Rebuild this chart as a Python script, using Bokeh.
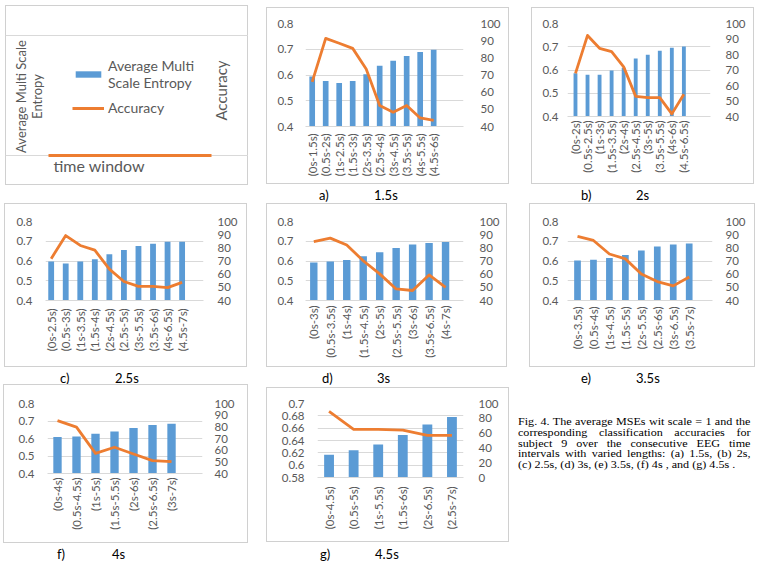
from math import pi

from bokeh.embed import file_html
from bokeh.layouts import column, row
from bokeh.models import (ColumnDataSource, Div, FixedTicker, Grid, Label, Legend,
                          LegendItem, LinearAxis, Range1d, Spacer)
from bokeh.plotting import figure
from bokeh.resources import INLINE

# ---------------------------------------------------------------- data
cats_a = ["(0s-1.5s)", "(0.5s-2s)", "(1s-2.5s)", "(1.5s-3s)", "(2s-3.5s)",
          "(2.5s-4s)", "(3s-4.5s)", "(3.5s-5s)", "(4s-5.5s)", "(4.5s-6s)"]
mse_a = [0.594, 0.577, 0.569, 0.577, 0.603, 0.636, 0.655, 0.674, 0.689, 0.698]
acc_a = [66.0, 91.3, 88.5, 85.5, 73.5, 52.2, 48.3, 52.2, 45.0, 43.5]

cats_b = ["(0s-2s)", "(0.5s-2.5s)", "(1s-3s)", "(1.5s-3.5s)", "(2s-4s)",
          "(2.5s-4.5s)", "(3s-5s)", "(3.5s-5.5s)", "(4s-6s)", "(4.5s-6.5s)"]
mse_b = [0.586, 0.580, 0.580, 0.598, 0.610, 0.649, 0.666, 0.683, 0.696, 0.701]
acc_b = [67.8, 92.3, 84.0, 81.8, 72.0, 53.0, 52.2, 52.2, 41.7, 54.4]

cats_c = ["(0s-2.5s)", "(0.5s-3s)", "(1s-3.5s)", "(1.5s-4s)", "(2s-4.5s)",
          "(2.5s-5s)", "(3s-5.5s)", "(3.5s-6s)", "(4s-6.5s)", "(4.5s-7s)"]
mse_c = [0.597, 0.587, 0.597, 0.609, 0.634, 0.656, 0.676, 0.687, 0.698, 0.698]
acc_c = [71.8, 89.3, 81.8, 78.2, 63.8, 54.4, 50.7, 50.7, 49.8, 53.8]

cats_d = ["(0s-3s)", "(0.5s-3.5s)", "(1s-4s)", "(1.5s-4.5s)", "(2s-5s)",
          "(2.5s-5.5s)", "(3s-6s)", "(3.5s-6.5s)", "(4s-7s)"]
mse_d = [0.593, 0.598, 0.605, 0.624, 0.644, 0.666, 0.684, 0.691, 0.696]
acc_d = [84.8, 87.4, 82.1, 70.2, 60.2, 48.8, 47.6, 59.4, 50.0]

cats_e = ["(0s-3.5s)", "(0.5s-4s)", "(1s-4.5s)", "(1.5s-5s)", "(2s-5.5s)",
          "(2.5s-6s)", "(3s-6.5s)", "(3.5s-7s)"]
mse_e = [0.603, 0.606, 0.615, 0.631, 0.653, 0.673, 0.684, 0.689]
acc_e = [88.7, 85.6, 75.3, 71.6, 60.2, 54.4, 51.1, 57.8]

cats_f = ["(0s-4s)", "(0.5s-4.5s)", "(1s-5s)", "(1.5s-5.5s)", "(2s-6s)",
          "(2.5s-6.5s)", "(3s-7s)"]
mse_f = [0.608, 0.612, 0.627, 0.640, 0.660, 0.677, 0.685]
acc_f = [85.3, 79.8, 57.3, 62.5, 56.7, 51.0, 50.1]

cats_g = ["(0s-4.5s)", "(0.5s-5s)", "(1s-5.5s)", "(1.5s-6s)", "(2s-6.5s)", "(2.5s-7s)"]
mse_g = [0.617, 0.624, 0.6335, 0.649, 0.666, 0.678]
acc_g = [89.2, 64.9, 64.9, 64.0, 56.8, 56.8]

mse_ticks = [0.4, 0.5, 0.6, 0.7, 0.8]
acc_ticks = [40, 50, 60, 70, 80, 90, 100]
mse_ticks_g = [0.58, 0.6, 0.62, 0.64, 0.66, 0.68, 0.7]
mse_labels_g = ["0.58", "0.6", "0.62", "0.64", "0.66", "0.68", "0.7"]
acc_ticks_g = [0, 20, 40, 60, 80, 100]

# empty template chart (legend panel): both series sit at zero
tpl_x = [0, 1]
tpl_mse = [0, 0]
tpl_acc = [0, 0]
tpl_grid = [0, 1]

panel_tags = ["a)", "b)", "c)", "d)", "e)", "f)", "g)"]
panel_lengths = ["1.5s", "2s", "2.5s", "3s", "3.5s", "4s", "4.5s"]

caption_lines = [
    "Fig. 4. The average MSEs wit scale = 1 and the",
    "corresponding classification accuracies for",
    "subject 9 over the consecutive EEG time",
    "intervals with varied lengths: (a) 1.5s, (b) 2s,",
    "(c) 2.5s, (d) 3s, (e) 3.5s, (f) 4s , and (g) 4.5s .",
]

# ---------------------------------------------------------------- style
BLUE = "#5b9bd5"
ORANGE = "#ed7d31"
GRID = "#d9d9d9"
TEXT = "#595959"
BOX = "#d0d0d0"
FONT = "Lato"
TICK_SIZE = "11.5px"
BOX_STYLE = {"outline": f"1px solid {BOX}", "outline-offset": "-1px"}


def combo_panel(cats, mse, acc, width, height, borders, x_span, bar_w,
                mse_tk, acc_tk, standoffs, mse_lbl=None):
    """Excel-style combo chart: MSE bars on the left axis, accuracy line on the right."""
    mbl, mbr, mbt, mbb = borders
    so_left, so_right, so_bottom = standoffs
    idx = list(range(len(cats)))
    src = ColumnDataSource(dict(x=idx, mse=mse, acc=acc))

    p = figure(width=width, height=height, output_backend="svg", toolbar_location=None,
               x_range=Range1d(*x_span), y_range=Range1d(mse_tk[0], mse_tk[-1]),
               min_border_left=mbl, min_border_right=mbr,
               min_border_top=mbt, min_border_bottom=mbb)
    p.extra_y_ranges = {"acc": Range1d(acc_tk[0], acc_tk[-1])}
    p.background_fill_color = None
    p.border_fill_color = None
    p.outline_line_color = None
    p.styles = BOX_STYLE

    p.vbar(x="x", top="mse", bottom=mse_tk[0], width=bar_w, fill_color=BLUE,
           line_color=None, source=src)
    p.line(x="x", y="acc", y_range_name="acc", line_color=ORANGE, line_width=2.8,
           line_join="round", source=src)

    p.xgrid.visible = False
    p.ygrid.ticker = FixedTicker(ticks=mse_tk)
    p.ygrid.grid_line_color = GRID

    xa = p.xaxis[0]
    xa.ticker = FixedTicker(ticks=idx)
    xa.major_label_overrides = {i: c for i, c in enumerate(cats)}
    xa.major_label_orientation = pi / 2
    xa.axis_line_color = GRID
    xa.major_label_standoff = so_bottom

    ya = p.yaxis[0]
    ya.ticker = FixedTicker(ticks=mse_tk)
    if mse_lbl:
        ya.major_label_overrides = dict(zip(mse_tk, mse_lbl))
    ya.axis_line_color = None
    ya.major_label_standoff = so_left

    ra = LinearAxis(y_range_name="acc", ticker=FixedTicker(ticks=acc_tk),
                    axis_line_color=None, major_label_standoff=so_right)
    p.add_layout(ra, "right")

    for ax in (xa, ya, ra):
        ax.major_tick_line_color = None
        ax.minor_tick_line_color = None
        ax.major_tick_out = 0
        ax.major_tick_in = 0
        ax.minor_tick_out = 0
        ax.major_label_text_font = FONT
        ax.major_label_text_font_size = TICK_SIZE
        ax.major_label_text_color = TEXT
    return p


# ---------------------------------------------------------------- legend panel
# the plot frame fills the whole box so the titles can sit anywhere inside it
lp = figure(width=243, height=180, output_backend="svg", toolbar_location=None,
            x_range=Range1d(-0.2638, 1.2270), y_range=Range1d(-0.25, 1.25),
            x_axis_type=None, y_axis_type=None,
            min_border_left=0, min_border_right=0, min_border_top=0, min_border_bottom=0)
lp.background_fill_color = None
lp.border_fill_color = None
lp.outline_line_color = None
lp.styles = BOX_STYLE
lp.add_layout(Grid(dimension=1, ticker=FixedTicker(ticks=tpl_grid), grid_line_color=GRID,
                   bounds=(-0.0613, 1.0675)))

tpl_bars = lp.vbar(x=tpl_x, top=tpl_mse, bottom=0, width=0.5, fill_color=BLUE, line_color=None)
tpl_line = lp.line(tpl_x, tpl_acc, line_color=ORANGE, line_width=3)

lp.add_layout(Legend(
    items=[LegendItem(label="Average Multi\nScale Entropy", renderers=[tpl_bars]),
           LegendItem(label="Accuracy", renderers=[tpl_line])],
    location=(67, 69), orientation="vertical", padding=0, spacing=8, margin=0,
    glyph_width=32, glyph_height=8, label_height=17, label_standoff=4,
    label_text_font=FONT, label_text_font_size="14px", label_text_color=TEXT,
    label_text_line_height=1.1,
    border_line_color=None, background_fill_alpha=0,
))
lp.add_layout(Label(x=23.5, y=89, x_units="screen", y_units="screen",
                    text="Average Multi Scale\nEntropy", angle=pi / 2,
                    text_align="center", text_baseline="middle", text_line_height=1.05,
                    text_font=FONT, text_font_size="13px", text_color=TEXT))
lp.add_layout(Label(x=215, y=95, x_units="screen", y_units="screen",
                    text="Accuracy", angle=pi / 2, text_align="center",
                    text_baseline="middle", text_font=FONT, text_font_size="15px",
                    text_color=TEXT))
lp.add_layout(Label(x=48, y=20, x_units="screen", y_units="screen",
                    text="time window", text_align="left", text_baseline="middle",
                    text_font=FONT, text_font_size="16px", text_color=TEXT))

# ---------------------------------------------------------------- panels
pa = combo_panel(cats_a, mse_a, acc_a, 243, 177, (39, 46, 16, 58), (-0.496, 11.21), 0.42,
                 mse_ticks, acc_ticks, (12, 17, 7))
pb = combo_panel(cats_b, mse_b, acc_b, 223, 177, (36, 44, 16, 68), (-0.663, 11.21), 0.32,
                 mse_ticks, acc_ticks, (9, 15, 4))
pc = combo_panel(cats_c, mse_c, acc_c, 243, 164, (41, 44, 17, 57), (-0.39, 10.47), 0.40,
                 mse_ticks, acc_ticks, (13, 14, 8))
pd = combo_panel(cats_d, mse_d, acc_d, 241, 164, (39, 44, 18, 67), (-0.504, 9.09), 0.45,
                 mse_ticks, acc_ticks, (12, 16, 5))
pe = combo_panel(cats_e, mse_e, acc_e, 226, 164, (38, 43, 17, 57), (-0.627, 8.46), 0.42,
                 mse_ticks, acc_ticks, (9, 13, 6))
pf = combo_panel(cats_f, mse_f, acc_f, 245, 159, (44, 46, 19, 70), (-0.526, 7.63), 0.44,
                 mse_ticks, acc_ticks, (13, 12, 4))
pg = combo_panel(cats_g, mse_g, acc_g, 243, 155, (51, 46, 16, 65), (-0.47, 5.47), 0.40,
                 mse_ticks_g, acc_ticks_g, (13, 15, 9), mse_lbl=mse_labels_g)


def caption_row(entries, height, top):
    spans = "".join(
        f'<span style="position:absolute;left:{x}px;top:{top}px">{t}</span>'
        for x, t in entries)
    html = (f'<div style="position:relative;width:759px;height:{height}px;'
            f'font-family:Lato;font-size:13px;line-height:13px;color:#000">{spans}</div>')
    return Div(text=html, width=759, height=height, margin=0)


def sub_caption(i, x):
    return [(x, panel_tags[i]), (x + 55, panel_lengths[i])]


lab1 = caption_row(sub_caption(0, 319) + sub_caption(1, 581), 17, 4)
lab2 = caption_row(sub_caption(2, 60) + sub_caption(3, 322) + sub_caption(4, 581), 17, 5)
lab3 = caption_row(sub_caption(5, 57) + sub_caption(6, 320), 21, 5)

# figure caption: justified serif block, set in a slightly wide (stretched) face
cap_html = "".join(
    f'<div style="text-align:justify;text-align-last:{"justify" if i < len(caption_lines) - 1 else "left"}">{ln}</div>'
    for i, ln in enumerate(caption_lines))
caption = Div(text=f'<div style="font-family:\'Liberation Serif\';font-size:9.7px;'
                   f'line-height:10.8px;color:#000;width:186px;white-space:nowrap;'
                   f'transform:scaleX(1.25);transform-origin:0 0">{cap_html}</div>',
              width=236, height=60, margin=0)

row1 = row(Spacer(width=5), lp, Spacer(width=18),
           column(Spacer(height=2), pa), Spacer(width=22),
           column(Spacer(height=2), pb))
row2 = row(Spacer(width=4), pc, Spacer(width=19), pd, Spacer(width=22), pe)
row3 = row(Spacer(width=3), pf, Spacer(width=18),
           column(Spacer(height=3), pg), Spacer(width=9),
           column(Spacer(height=33), caption))

page = column(Spacer(height=5), row1, lab1, Spacer(height=1), row2, lab2, row3, lab3)

open("out.html", "w").write(file_html(page, INLINE))
